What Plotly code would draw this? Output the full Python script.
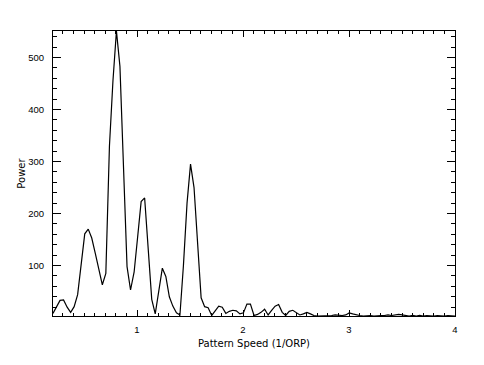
import plotly.graph_objects as go

pattern_speed = [
    0.207, 0.241, 0.274, 0.307, 0.341, 0.374, 0.407, 0.440, 0.474, 0.507,
    0.540, 0.573, 0.607, 0.640, 0.673, 0.706, 0.740, 0.773, 0.806, 0.839,
    0.873, 0.906, 0.939, 0.973, 1.006, 1.039, 1.072, 1.106, 1.139, 1.172,
    1.206, 1.239, 1.272, 1.305, 1.338, 1.372, 1.405, 1.438, 1.472, 1.505,
    1.538, 1.571, 1.605, 1.638, 1.671, 1.705, 1.738, 1.771, 1.804, 1.838,
    1.871, 1.904, 1.937, 1.971, 2.004, 2.037, 2.070, 2.104, 2.137, 2.170,
    2.204, 2.237, 2.270, 2.303, 2.336, 2.370, 2.403, 2.436, 2.470, 2.503,
    2.536, 2.569, 2.603, 2.636, 2.669, 2.703, 2.736, 2.769, 2.802, 2.836,
    2.869, 2.902, 2.935, 2.969, 3.002, 3.035, 3.068, 3.102, 3.135, 3.168,
    3.202, 3.235, 3.268, 3.301, 3.334, 3.368, 3.401, 3.434, 3.468, 3.501,
    3.534, 3.567, 3.601, 3.634, 3.667, 3.701, 3.734, 3.767, 3.800, 3.834,
    3.867, 3.900, 3.933, 3.967, 4.000,
]

power = [
    8, 21, 33, 34, 20, 10, 21, 44, 102, 161,
    170, 153, 123, 93, 63, 85, 330, 455, 551, 483,
    290, 98, 53, 88, 155, 223, 230, 130, 35, 7,
    52, 95, 79, 40, 22, 9, 5, 100, 220, 295,
    250, 145, 38, 21, 19, 4, 12, 22, 20, 8,
    12, 14, 13, 7, 9, 26, 26, 4, 6, 10,
    16, 5, 14, 22, 25, 10, 4, 12, 14, 10,
    5, 7, 10, 7, 4, 3, 3, 4, 3, 4,
    5, 4, 4, 5, 9, 7, 5, 4, 3, 4,
    4, 3, 4, 4, 4, 5, 4, 5, 6, 5,
    4, 3, 4, 3, 4, 3, 4, 3, 3, 4,
    3, 3, 4, 3, 3,
]

x_ticks = [1, 2, 3, 4]
y_ticks = [100, 200, 300, 400, 500]
x_range = [0.2075, 4.0]
y_range = [3, 551]

fig = go.Figure()
fig.add_trace(go.Scatter(
    x=pattern_speed, y=power, mode="lines",
    line=dict(color="black", width=1.2),
    showlegend=False,
))

tick_font = dict(family="Liberation Sans, Arial, sans-serif", size=9.5, color="black")
title_font = dict(family="DejaVu Sans, sans-serif", size=10, color="black")

fig.update_layout(
    width=476, height=357,
    margin=dict(l=45, r=29, t=23, b=49),
    paper_bgcolor="white", plot_bgcolor="white",
    font=tick_font,
    xaxis=dict(
        range=x_range, tickvals=x_ticks, ticktext=[str(v) for v in x_ticks],
        showgrid=False, zeroline=False,
        showline=True, linecolor="black", linewidth=1, mirror="allticks",
        ticks="inside", ticklen=6, tickwidth=1, tickcolor="black",
        minor=dict(ticks="inside", ticklen=3, dtick=0.1, tick0=0, tickcolor="black", showgrid=False),
        tickfont=tick_font,
        title=dict(text="Pattern Speed (1/ORP)", font=title_font, standoff=5),
        ticklabelstandoff=5,
    ),
    yaxis=dict(
        range=y_range, tickvals=y_ticks, ticktext=[str(v) for v in y_ticks],
        showgrid=False, zeroline=False,
        showline=True, linecolor="black", linewidth=1, mirror="allticks",
        ticks="inside", ticklen=8, tickwidth=1, tickcolor="black",
        minor=dict(ticks="inside", ticklen=4, dtick=20, tick0=0, tickcolor="black", showgrid=False),
        tickfont=tick_font,
        title=dict(text="Power", font=title_font, standoff=0),
        ticklabelstandoff=6,
    ),
)

fig.write_html("out.html")
